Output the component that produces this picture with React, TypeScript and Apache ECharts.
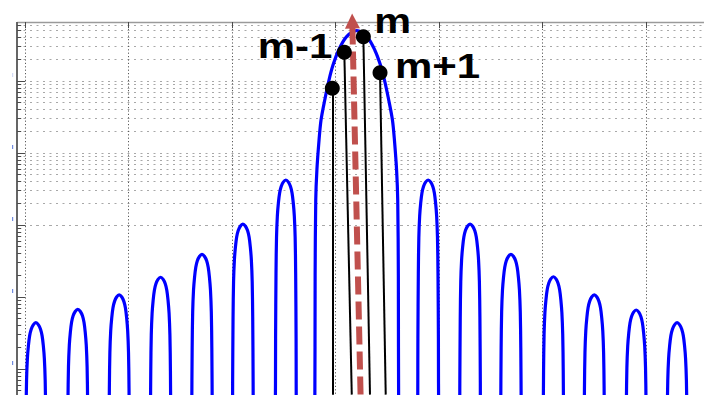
import { useEffect, useRef } from "react";
import * as echarts from "echarts";

// Axis window (linear x, logarithmic y)
const X_MIN = 9.227;
const X_MAX = 75.6;
const Y_MIN = 4.354e-5;
const Y_MAX = 13.34;
const Y_FRAME_TOP = 6.6; // upper edge of the axes box
const PX_PER_X = 10.35; // px per x unit
const PX_PER_DECADE = 72;

// Ticks / grid
const X_TICKS = [10, 20, 30, 40, 50, 60, 70];
const DECADES = [1e-5, 1e-4, 1e-3, 1e-2, 1e-1, 1];
const LABELLED_DECADES = [1e-4, 1e-3, 1e-2, 1e-1, 1];
const MINOR_STEPS = [1, 2, 3, 4, 5, 6, 7, 8, 9];

// Side lobes: centres and peak levels
const SIDE_CENTERS = [11.05, 15.1, 19.1, 23.1, 27.1, 31.05, 35.2, 48.95, 53.0, 56.95, 61.05, 65.0, 69.05, 73.0];
const SIDE_PEAKS = [4.4e-4, 6.75e-4, 1.07e-3, 1.88e-3, 3.92e-3, 1.03e-2, 4.22e-2, 4.22e-2, 1.03e-2, 3.92e-3, 1.91e-3, 1.07e-3, 6.6e-4, 4.4e-4];
// Side-lobe outline: distance from centre vs. decades below the peak
const SIDE_OFFSETS = [0, 0.25, 0.45, 0.6, 0.72, 0.82, 0.9, 0.95, 0.99, 1.03];
const SIDE_DROPS = [0, 0.03, 0.09, 0.18, 0.32, 0.5, 0.8, 1.3, 2.2, 3.5];

// Main lobe outline
const MAIN_CENTER = 42.05;
const MAIN_OFFSETS = [0, 1.0, 1.74, 2.3, 2.68, 3.09, 3.45, 3.64, 3.85, 3.96, 4.02, 4.06];
const MAIN_LEVELS = [5.0, 4.1, 2.7, 1.65, 1.03, 0.545, 0.287, 0.152, 0.058, 0.0222, 0.002, 1e-5];

// Samples m-1 .. m+1 (stems)
const STEM_LABELS = ["", "m-1", "m", "m+1"];
const STEM_X = [39.69, 40.85, 42.69, 44.3];
const STEM_Y = [0.792, 2.504, 4.124, 1.304];
const STEM_FOOT_X = [39.71, 41.57, 43.33, 44.85];

// Centre-frequency arrow
const ARROW_FROM = [42.42, 4.43e-5];
const ARROW_TO = [41.62, 6.81];

function lobe(center: number, offsets: number[], levels: number[]): number[][] {
  const pts: number[][] = [];
  for (let i = offsets.length - 1; i > 0; i--) pts.push([center - offsets[i], levels[i]]);
  for (let i = 0; i < offsets.length; i++) pts.push([center + offsets[i], levels[i]]);
  return pts;
}

function buildCurve(): number[][] {
  const lobes: { c: number; pts: number[][] }[] = [];
  SIDE_CENTERS.forEach((c, i) => {
    const levels = SIDE_DROPS.map((d) => SIDE_PEAKS[i] * Math.pow(10, -d));
    lobes.push({ c, pts: lobe(c, SIDE_OFFSETS, levels) });
  });
  lobes.push({ c: MAIN_CENTER, pts: lobe(MAIN_CENTER, MAIN_OFFSETS, MAIN_LEVELS) });
  lobes.sort((a, b) => a.c - b.c);
  return lobes.flatMap((l) => l.pts);
}

export default function App() {
  const ref = useRef<HTMLDivElement>(null);

  useEffect(() => {
    if (!ref.current) return;
    const chart = echarts.init(ref.current, undefined, { renderer: "svg" });

    const xAxisPos = X_MIN + 0.02;
    const yBottom = Y_MIN * 1.002;
    const pxToDec = (px: number) => Math.pow(10, px / PX_PER_DECADE);

    const gridValues: { v: number; major: boolean }[] = [];
    DECADES.forEach((d) =>
      MINOR_STEPS.forEach((k) => {
        const v = d * k;
        if (v > Y_MIN && v < Y_FRAME_TOP) gridValues.push({ v, major: k === 1 });
      })
    );

    const noLabel = { show: false };
    const hidden = { show: false };

    const option: any = {
      animation: false,
      grid: { left: 17, right: 0, top: 0, bottom: 0, containLabel: false },
      xAxis: {
        type: "value",
        min: X_MIN,
        max: X_MAX,
        axisLine: hidden,
        axisTick: hidden,
        axisLabel: hidden,
        splitLine: hidden,
      },
      yAxis: {
        type: "log",
        logBase: 10,
        min: Y_MIN,
        max: Y_MAX,
        axisLine: hidden,
        axisTick: hidden,
        axisLabel: hidden,
        splitLine: hidden,
      },
      series: [
        {
          name: "hgrid",
          type: "line",
          data: [],
          markLine: {
            silent: true,
            symbol: "none",
            z: 1,
            label: noLabel,
            lineStyle: { color: "#a8a8a8", width: 1, type: [2, 4.5] },
            data: gridValues.map((g) => ({ yAxis: g.v })),
          },
        },
        {
          name: "vgrid",
          type: "line",
          data: [],
          markLine: {
            silent: true,
            symbol: "none",
            z: 1,
            label: noLabel,
            lineStyle: { color: "#5a5a5a", width: 1, type: [1.2, 2.2] },
            data: X_TICKS.map((x) => [{ coord: [x, Y_FRAME_TOP] }, { coord: [x, yBottom] }]),
          },
        },
        {
          name: "frame",
          type: "line",
          data: [],
          markLine: {
            silent: true,
            symbol: "none",
            z: 2,
            label: noLabel,
            lineStyle: { color: "#4a4a4a", width: 1, type: "solid" },
            data: [
              [
                { coord: [xAxisPos, Y_FRAME_TOP], lineStyle: { color: "#9a9a9a", width: 1.3 } },
                { coord: [X_MAX - 0.001, Y_FRAME_TOP] },
              ],
              [
                { coord: [xAxisPos, Y_FRAME_TOP], lineStyle: { color: "#555", width: 1.8 } },
                { coord: [xAxisPos, yBottom] },
              ],
              ...X_TICKS.map((x) => [
                { coord: [x, Y_FRAME_TOP] },
                { coord: [x, Y_FRAME_TOP / pxToDec(6)] },
              ]),
              ...gridValues.map((g) => [
                { coord: [xAxisPos, g.v] },
                { coord: [xAxisPos + (g.major ? 8 : 4) / PX_PER_X, g.v] },
              ]),
            ],
          },
        },
        {
          name: "spectrum",
          type: "line",
          z: 3,
          data: buildCurve(),
          showSymbol: false,
          smooth: 0.3,
          clip: true,
          silent: true,
          lineStyle: { color: "#0000ff", width: 3.2 },
        },
        {
          name: "samples",
          type: "scatter",
          z: 6,
          data: STEM_X.map((x, i) => [x, STEM_Y[i]]),
          symbol: "circle",
          symbolSize: 15,
          itemStyle: { color: "#000", opacity: 1 },
          silent: true,
          markLine: {
            silent: true,
            symbol: "none",
            z: 4,
            label: noLabel,
            lineStyle: { color: "#000", width: 2, type: "solid" },
            data: STEM_X.map((x, i) => [
              { coord: [x, STEM_Y[i]] },
              { coord: [STEM_FOOT_X[i], yBottom * 1.01] },
            ]),
          },
        },
        {
          name: "arrow",
          type: "line",
          data: [],
          markLine: {
            silent: true,
            symbol: ["none", "triangle"],
            symbolSize: [15, 15],
            z: 5,
            label: noLabel,
            lineStyle: { color: "#C0504D", width: 6, type: [18, 7], opacity: 1 },
            data: [[{ coord: ARROW_FROM }, { coord: ARROW_TO }]],
          },
        },
      ],
    };

    chart.setOption(option);

    // Labels and the clipped tick-label remnants, anchored to the data
    const toPx = (p: number[]) => chart.convertToPixel({ gridIndex: 0 }, p) as number[];
    const graphics: any[] = [];
    const labelSpec: Record<string, { dx: number; dy: number; size: number; align: string; sx: number }> = {
      "m-1": { dx: -12, dy: -7, size: 35, align: "right", sx: 1.2 },
      m: { dx: 11, dy: -16, size: 36, align: "left", sx: 1.15 },
      "m+1": { dx: 15, dy: -6.5, size: 35, align: "left", sx: 1.2 },
    };
    STEM_LABELS.forEach((t, i) => {
      if (!t) return;
      const s = labelSpec[t];
      const p = toPx([STEM_X[i], STEM_Y[i]]);
      graphics.push({
        type: "text",
        x: p[0] + s.dx,
        y: p[1] + s.dy,
        scaleX: s.sx,
        z: 20,
        silent: true,
        style: {
          text: t,
          fill: "#000",
          font: `bold ${s.size}px "Liberation Sans", Arial, sans-serif`,
          align: s.align,
          verticalAlign: "middle",
        },
      });
    });
    LABELLED_DECADES.forEach((d) => {
      const p = toPx([X_MIN, d]);
      graphics.push({
        type: "rect",
        silent: true,
        shape: { x: p[0] - 5, y: p[1] - 8, width: 1.2, height: 4 },
        style: { fill: "#4f6fd6", opacity: d === 1 ? 0.25 : 0.8 },
      });
    });
    chart.setOption({ graphic: graphics });

    return () => chart.dispose();
  }, []);

  return (
    <div
      ref={ref}
      style={{ position: "fixed", left: 0, top: 0, width: 704, height: 395, background: "#fff" }}
    />
  );
}
